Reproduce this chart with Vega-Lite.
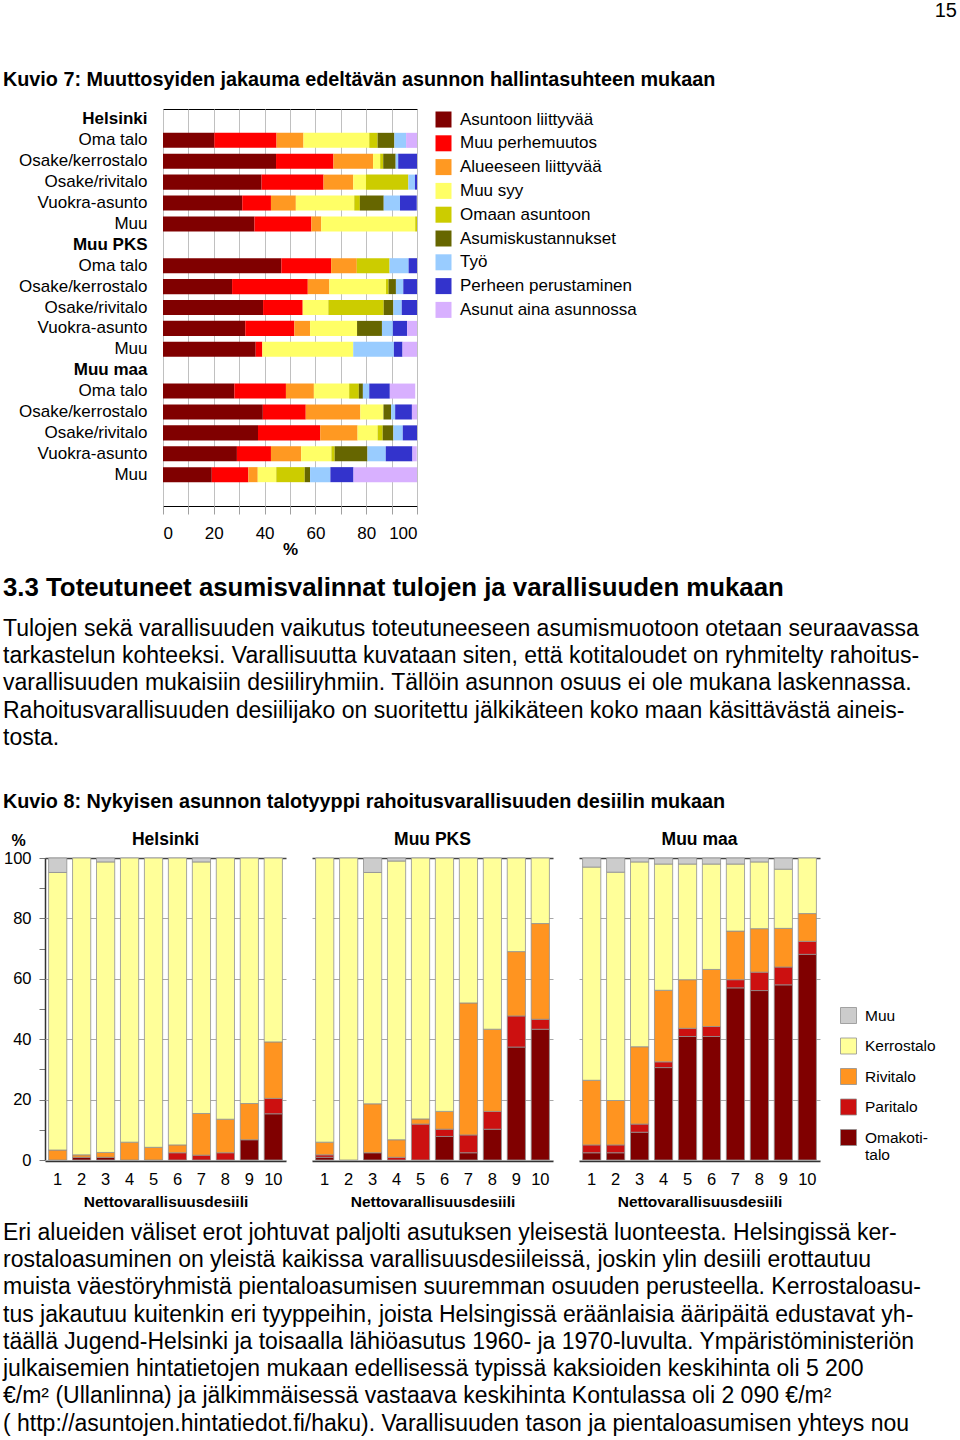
{
  "$schema": "https://vega.github.io/schema/vega-lite/v6.json",
  "padding": {"left": 3, "right": 3, "top": 1, "bottom": 0},
  "background": "white",
  "title": {"text": "15", "anchor": "end", "fontSize": 20, "fontWeight": "normal", "font": "Liberation Sans", "color": "black", "offset": 31},
  "spacing": 0,
  "resolve": {"scale": {"color": "independent"}, "legend": {"color": "independent"}},
  "config": {
    "view": {"stroke": null},
    "font": "Liberation Sans",
    "axis": {"labelColor": "black", "titleColor": "black", "labelFont": "Liberation Sans", "titleFont": "Liberation Sans"},
    "legend": {"labelColor": "black", "labelFont": "Liberation Sans"},
    "header": {"labelFont": "Liberation Sans", "labelColor": "black"}
  },
  "datasets": {
    "c1": [
      {"r": "Helsinki|Oma talo", "s": "Asuntoon liittyvää", "v": 20.2},
      {"r": "Helsinki|Oma talo", "s": "Muu perhemuutos", "v": 24.5},
      {"r": "Helsinki|Oma talo", "s": "Alueeseen liittyvää", "v": 10.6},
      {"r": "Helsinki|Oma talo", "s": "Muu syy", "v": 25.9},
      {"r": "Helsinki|Oma talo", "s": "Omaan asuntoon", "v": 3.3},
      {"r": "Helsinki|Oma talo", "s": "Asumiskustannukset", "v": 6.6},
      {"r": "Helsinki|Oma talo", "s": "Työ", "v": 4.6},
      {"r": "Helsinki|Oma talo", "s": "Asunut aina asunnossa", "v": 4.3},
      {"r": "Helsinki|Osake/kerrostalo", "s": "Asuntoon liittyvää", "v": 44.5},
      {"r": "Helsinki|Osake/kerrostalo", "s": "Muu perhemuutos", "v": 22.6},
      {"r": "Helsinki|Osake/kerrostalo", "s": "Alueeseen liittyvää", "v": 15.6},
      {"r": "Helsinki|Osake/kerrostalo", "s": "Muu syy", "v": 2.8},
      {"r": "Helsinki|Osake/kerrostalo", "s": "Omaan asuntoon", "v": 1.2},
      {"r": "Helsinki|Osake/kerrostalo", "s": "Asumiskustannukset", "v": 4.9},
      {"r": "Helsinki|Osake/kerrostalo", "s": "Työ", "v": 1.0},
      {"r": "Helsinki|Osake/kerrostalo", "s": "Perheen perustaminen", "v": 7.4},
      {"r": "Helsinki|Osake/rivitalo", "s": "Asuntoon liittyvää", "v": 38.8},
      {"r": "Helsinki|Osake/rivitalo", "s": "Muu perhemuutos", "v": 24.4},
      {"r": "Helsinki|Osake/rivitalo", "s": "Alueeseen liittyvää", "v": 11.7},
      {"r": "Helsinki|Osake/rivitalo", "s": "Muu syy", "v": 5.0},
      {"r": "Helsinki|Osake/rivitalo", "s": "Omaan asuntoon", "v": 16.7},
      {"r": "Helsinki|Osake/rivitalo", "s": "Työ", "v": 2.6},
      {"r": "Helsinki|Osake/rivitalo", "s": "Perheen perustaminen", "v": 0.8},
      {"r": "Helsinki|Vuokra-asunto", "s": "Asuntoon liittyvää", "v": 31.2},
      {"r": "Helsinki|Vuokra-asunto", "s": "Muu perhemuutos", "v": 11.3},
      {"r": "Helsinki|Vuokra-asunto", "s": "Alueeseen liittyvää", "v": 9.8},
      {"r": "Helsinki|Vuokra-asunto", "s": "Muu syy", "v": 23.0},
      {"r": "Helsinki|Vuokra-asunto", "s": "Omaan asuntoon", "v": 2.2},
      {"r": "Helsinki|Vuokra-asunto", "s": "Asumiskustannukset", "v": 9.4},
      {"r": "Helsinki|Vuokra-asunto", "s": "Työ", "v": 6.4},
      {"r": "Helsinki|Vuokra-asunto", "s": "Perheen perustaminen", "v": 6.6},
      {"r": "Helsinki|Muu", "s": "Asuntoon liittyvää", "v": 36.0},
      {"r": "Helsinki|Muu", "s": "Muu perhemuutos", "v": 22.4},
      {"r": "Helsinki|Muu", "s": "Alueeseen liittyvää", "v": 3.9},
      {"r": "Helsinki|Muu", "s": "Muu syy", "v": 37.0},
      {"r": "Helsinki|Muu", "s": "Omaan asuntoon", "v": 0.7},
      {"r": "Muu PKS|Oma talo", "s": "Asuntoon liittyvää", "v": 46.6},
      {"r": "Muu PKS|Oma talo", "s": "Muu perhemuutos", "v": 19.6},
      {"r": "Muu PKS|Oma talo", "s": "Alueeseen liittyvää", "v": 10.1},
      {"r": "Muu PKS|Oma talo", "s": "Omaan asuntoon", "v": 12.9},
      {"r": "Muu PKS|Oma talo", "s": "Työ", "v": 7.5},
      {"r": "Muu PKS|Oma talo", "s": "Perheen perustaminen", "v": 3.3},
      {"r": "Muu PKS|Osake/kerrostalo", "s": "Asuntoon liittyvää", "v": 27.2},
      {"r": "Muu PKS|Osake/kerrostalo", "s": "Muu perhemuutos", "v": 29.8},
      {"r": "Muu PKS|Osake/kerrostalo", "s": "Alueeseen liittyvää", "v": 8.5},
      {"r": "Muu PKS|Osake/kerrostalo", "s": "Muu syy", "v": 22.3},
      {"r": "Muu PKS|Osake/kerrostalo", "s": "Omaan asuntoon", "v": 1.0},
      {"r": "Muu PKS|Osake/kerrostalo", "s": "Asumiskustannukset", "v": 2.9},
      {"r": "Muu PKS|Osake/kerrostalo", "s": "Työ", "v": 2.9},
      {"r": "Muu PKS|Osake/kerrostalo", "s": "Perheen perustaminen", "v": 5.4},
      {"r": "Muu PKS|Osake/rivitalo", "s": "Asuntoon liittyvää", "v": 39.4},
      {"r": "Muu PKS|Osake/rivitalo", "s": "Muu perhemuutos", "v": 15.6},
      {"r": "Muu PKS|Osake/rivitalo", "s": "Muu syy", "v": 10.1},
      {"r": "Muu PKS|Osake/rivitalo", "s": "Omaan asuntoon", "v": 21.8},
      {"r": "Muu PKS|Osake/rivitalo", "s": "Asumiskustannukset", "v": 3.8},
      {"r": "Muu PKS|Osake/rivitalo", "s": "Työ", "v": 3.3},
      {"r": "Muu PKS|Osake/rivitalo", "s": "Perheen perustaminen", "v": 6.0},
      {"r": "Muu PKS|Vuokra-asunto", "s": "Asuntoon liittyvää", "v": 32.4},
      {"r": "Muu PKS|Vuokra-asunto", "s": "Muu perhemuutos", "v": 19.3},
      {"r": "Muu PKS|Vuokra-asunto", "s": "Alueeseen liittyvää", "v": 6.2},
      {"r": "Muu PKS|Vuokra-asunto", "s": "Muu syy", "v": 18.5},
      {"r": "Muu PKS|Vuokra-asunto", "s": "Asumiskustannukset", "v": 9.8},
      {"r": "Muu PKS|Vuokra-asunto", "s": "Työ", "v": 4.3},
      {"r": "Muu PKS|Vuokra-asunto", "s": "Perheen perustaminen", "v": 5.6},
      {"r": "Muu PKS|Vuokra-asunto", "s": "Asunut aina asunnossa", "v": 3.9},
      {"r": "Muu PKS|Muu", "s": "Asuntoon liittyvää", "v": 36.5},
      {"r": "Muu PKS|Muu", "s": "Muu perhemuutos", "v": 2.6},
      {"r": "Muu PKS|Muu", "s": "Muu syy", "v": 35.8},
      {"r": "Muu PKS|Muu", "s": "Työ", "v": 16.0},
      {"r": "Muu PKS|Muu", "s": "Perheen perustaminen", "v": 3.4},
      {"r": "Muu PKS|Muu", "s": "Asunut aina asunnossa", "v": 5.7},
      {"r": "Muu maa|Oma talo", "s": "Asuntoon liittyvää", "v": 28.1},
      {"r": "Muu maa|Oma talo", "s": "Muu perhemuutos", "v": 20.3},
      {"r": "Muu maa|Oma talo", "s": "Alueeseen liittyvää", "v": 11.0},
      {"r": "Muu maa|Oma talo", "s": "Muu syy", "v": 13.9},
      {"r": "Muu maa|Oma talo", "s": "Omaan asuntoon", "v": 3.8},
      {"r": "Muu maa|Oma talo", "s": "Asumiskustannukset", "v": 1.6},
      {"r": "Muu maa|Oma talo", "s": "Työ", "v": 2.5},
      {"r": "Muu maa|Oma talo", "s": "Perheen perustaminen", "v": 8.1},
      {"r": "Muu maa|Oma talo", "s": "Asunut aina asunnossa", "v": 10.0},
      {"r": "Muu maa|Osake/kerrostalo", "s": "Asuntoon liittyvää", "v": 39.3},
      {"r": "Muu maa|Osake/kerrostalo", "s": "Muu perhemuutos", "v": 16.9},
      {"r": "Muu maa|Osake/kerrostalo", "s": "Alueeseen liittyvää", "v": 21.5},
      {"r": "Muu maa|Osake/kerrostalo", "s": "Muu syy", "v": 9.1},
      {"r": "Muu maa|Osake/kerrostalo", "s": "Asumiskustannukset", "v": 3.0},
      {"r": "Muu maa|Osake/kerrostalo", "s": "Työ", "v": 1.6},
      {"r": "Muu maa|Osake/kerrostalo", "s": "Perheen perustaminen", "v": 6.6},
      {"r": "Muu maa|Osake/kerrostalo", "s": "Asunut aina asunnossa", "v": 2.0},
      {"r": "Muu maa|Osake/rivitalo", "s": "Asuntoon liittyvää", "v": 37.4},
      {"r": "Muu maa|Osake/rivitalo", "s": "Muu perhemuutos", "v": 24.5},
      {"r": "Muu maa|Osake/rivitalo", "s": "Alueeseen liittyvää", "v": 14.7},
      {"r": "Muu maa|Osake/rivitalo", "s": "Muu syy", "v": 7.9},
      {"r": "Muu maa|Osake/rivitalo", "s": "Omaan asuntoon", "v": 2.0},
      {"r": "Muu maa|Osake/rivitalo", "s": "Asumiskustannukset", "v": 4.2},
      {"r": "Muu maa|Osake/rivitalo", "s": "Työ", "v": 3.7},
      {"r": "Muu maa|Osake/rivitalo", "s": "Perheen perustaminen", "v": 5.6},
      {"r": "Muu maa|Vuokra-asunto", "s": "Asuntoon liittyvää", "v": 29.1},
      {"r": "Muu maa|Vuokra-asunto", "s": "Muu perhemuutos", "v": 13.4},
      {"r": "Muu maa|Vuokra-asunto", "s": "Alueeseen liittyvää", "v": 11.9},
      {"r": "Muu maa|Vuokra-asunto", "s": "Muu syy", "v": 11.9},
      {"r": "Muu maa|Vuokra-asunto", "s": "Omaan asuntoon", "v": 1.3},
      {"r": "Muu maa|Vuokra-asunto", "s": "Asumiskustannukset", "v": 12.9},
      {"r": "Muu maa|Vuokra-asunto", "s": "Työ", "v": 7.2},
      {"r": "Muu maa|Vuokra-asunto", "s": "Perheen perustaminen", "v": 10.5},
      {"r": "Muu maa|Vuokra-asunto", "s": "Asunut aina asunnossa", "v": 1.7},
      {"r": "Muu maa|Muu", "s": "Asuntoon liittyvää", "v": 19.2},
      {"r": "Muu maa|Muu", "s": "Muu perhemuutos", "v": 14.4},
      {"r": "Muu maa|Muu", "s": "Alueeseen liittyvää", "v": 3.7},
      {"r": "Muu maa|Muu", "s": "Muu syy", "v": 7.3},
      {"r": "Muu maa|Muu", "s": "Omaan asuntoon", "v": 11.2},
      {"r": "Muu maa|Muu", "s": "Asumiskustannukset", "v": 2.1},
      {"r": "Muu maa|Muu", "s": "Työ", "v": 8.0},
      {"r": "Muu maa|Muu", "s": "Perheen perustaminen", "v": 9.1},
      {"r": "Muu maa|Muu", "s": "Asunut aina asunnossa", "v": 25.0}
    ],
    "c2": [
      {"a": "Helsinki", "d": 1, "t": "Rivitalo", "p": 3.3},
      {"a": "Helsinki", "d": 1, "t": "Kerrostalo", "p": 91.9},
      {"a": "Helsinki", "d": 1, "t": "Muu", "p": 4.8},
      {"a": "Helsinki", "d": 2, "t": "Omakotitalo", "p": 0.9},
      {"a": "Helsinki", "d": 2, "t": "Rivitalo", "p": 0.8},
      {"a": "Helsinki", "d": 2, "t": "Kerrostalo", "p": 98.3},
      {"a": "Helsinki", "d": 3, "t": "Omakotitalo", "p": 0.9},
      {"a": "Helsinki", "d": 3, "t": "Rivitalo", "p": 1.6},
      {"a": "Helsinki", "d": 3, "t": "Kerrostalo", "p": 96.2},
      {"a": "Helsinki", "d": 3, "t": "Muu", "p": 1.3},
      {"a": "Helsinki", "d": 4, "t": "Rivitalo", "p": 5.9},
      {"a": "Helsinki", "d": 4, "t": "Kerrostalo", "p": 94.1},
      {"a": "Helsinki", "d": 5, "t": "Rivitalo", "p": 4.2},
      {"a": "Helsinki", "d": 5, "t": "Kerrostalo", "p": 95.8},
      {"a": "Helsinki", "d": 6, "t": "Paritalo", "p": 2.4},
      {"a": "Helsinki", "d": 6, "t": "Rivitalo", "p": 2.6},
      {"a": "Helsinki", "d": 6, "t": "Kerrostalo", "p": 95.0},
      {"a": "Helsinki", "d": 7, "t": "Paritalo", "p": 1.6},
      {"a": "Helsinki", "d": 7, "t": "Rivitalo", "p": 13.8},
      {"a": "Helsinki", "d": 7, "t": "Kerrostalo", "p": 83.3},
      {"a": "Helsinki", "d": 7, "t": "Muu", "p": 1.3},
      {"a": "Helsinki", "d": 8, "t": "Paritalo", "p": 2.4},
      {"a": "Helsinki", "d": 8, "t": "Rivitalo", "p": 11.1},
      {"a": "Helsinki", "d": 8, "t": "Kerrostalo", "p": 86.5},
      {"a": "Helsinki", "d": 9, "t": "Omakotitalo", "p": 6.7},
      {"a": "Helsinki", "d": 9, "t": "Rivitalo", "p": 12.0},
      {"a": "Helsinki", "d": 9, "t": "Kerrostalo", "p": 81.3},
      {"a": "Helsinki", "d": 10, "t": "Omakotitalo", "p": 15.3},
      {"a": "Helsinki", "d": 10, "t": "Paritalo", "p": 5.1},
      {"a": "Helsinki", "d": 10, "t": "Rivitalo", "p": 18.7},
      {"a": "Helsinki", "d": 10, "t": "Kerrostalo", "p": 60.9},
      {"a": "Muu PKS", "d": 1, "t": "Omakotitalo", "p": 0.9},
      {"a": "Muu PKS", "d": 1, "t": "Paritalo", "p": 0.8},
      {"a": "Muu PKS", "d": 1, "t": "Rivitalo", "p": 4.2},
      {"a": "Muu PKS", "d": 1, "t": "Kerrostalo", "p": 94.1},
      {"a": "Muu PKS", "d": 2, "t": "Kerrostalo", "p": 100},
      {"a": "Muu PKS", "d": 3, "t": "Omakotitalo", "p": 2.4},
      {"a": "Muu PKS", "d": 3, "t": "Rivitalo", "p": 16.2},
      {"a": "Muu PKS", "d": 3, "t": "Kerrostalo", "p": 76.6},
      {"a": "Muu PKS", "d": 3, "t": "Muu", "p": 4.8},
      {"a": "Muu PKS", "d": 4, "t": "Paritalo", "p": 0.9},
      {"a": "Muu PKS", "d": 4, "t": "Rivitalo", "p": 5.8},
      {"a": "Muu PKS", "d": 4, "t": "Kerrostalo", "p": 92.3},
      {"a": "Muu PKS", "d": 4, "t": "Muu", "p": 1.0},
      {"a": "Muu PKS", "d": 5, "t": "Paritalo", "p": 11.9},
      {"a": "Muu PKS", "d": 5, "t": "Rivitalo", "p": 1.7},
      {"a": "Muu PKS", "d": 5, "t": "Kerrostalo", "p": 86.4},
      {"a": "Muu PKS", "d": 6, "t": "Omakotitalo", "p": 7.8},
      {"a": "Muu PKS", "d": 6, "t": "Paritalo", "p": 2.4},
      {"a": "Muu PKS", "d": 6, "t": "Rivitalo", "p": 5.9},
      {"a": "Muu PKS", "d": 6, "t": "Kerrostalo", "p": 83.9},
      {"a": "Muu PKS", "d": 7, "t": "Omakotitalo", "p": 2.4},
      {"a": "Muu PKS", "d": 7, "t": "Paritalo", "p": 5.9},
      {"a": "Muu PKS", "d": 7, "t": "Rivitalo", "p": 43.7},
      {"a": "Muu PKS", "d": 7, "t": "Kerrostalo", "p": 48.0},
      {"a": "Muu PKS", "d": 8, "t": "Omakotitalo", "p": 10.2},
      {"a": "Muu PKS", "d": 8, "t": "Paritalo", "p": 5.9},
      {"a": "Muu PKS", "d": 8, "t": "Rivitalo", "p": 27.2},
      {"a": "Muu PKS", "d": 8, "t": "Kerrostalo", "p": 56.7},
      {"a": "Muu PKS", "d": 9, "t": "Omakotitalo", "p": 37.4},
      {"a": "Muu PKS", "d": 9, "t": "Paritalo", "p": 10.3},
      {"a": "Muu PKS", "d": 9, "t": "Rivitalo", "p": 21.3},
      {"a": "Muu PKS", "d": 9, "t": "Kerrostalo", "p": 31.0},
      {"a": "Muu PKS", "d": 10, "t": "Omakotitalo", "p": 43.3},
      {"a": "Muu PKS", "d": 10, "t": "Paritalo", "p": 3.3},
      {"a": "Muu PKS", "d": 10, "t": "Rivitalo", "p": 31.7},
      {"a": "Muu PKS", "d": 10, "t": "Kerrostalo", "p": 21.7},
      {"a": "Muu maa", "d": 1, "t": "Omakotitalo", "p": 2.4},
      {"a": "Muu maa", "d": 1, "t": "Paritalo", "p": 2.6},
      {"a": "Muu maa", "d": 1, "t": "Rivitalo", "p": 21.4},
      {"a": "Muu maa", "d": 1, "t": "Kerrostalo", "p": 70.6},
      {"a": "Muu maa", "d": 1, "t": "Muu", "p": 3.0},
      {"a": "Muu maa", "d": 2, "t": "Omakotitalo", "p": 2.4},
      {"a": "Muu maa", "d": 2, "t": "Paritalo", "p": 2.6},
      {"a": "Muu maa", "d": 2, "t": "Rivitalo", "p": 14.7},
      {"a": "Muu maa", "d": 2, "t": "Kerrostalo", "p": 75.6},
      {"a": "Muu maa", "d": 2, "t": "Muu", "p": 4.7},
      {"a": "Muu maa", "d": 3, "t": "Omakotitalo", "p": 9.2},
      {"a": "Muu maa", "d": 3, "t": "Paritalo", "p": 2.7},
      {"a": "Muu maa", "d": 3, "t": "Rivitalo", "p": 25.6},
      {"a": "Muu maa", "d": 3, "t": "Kerrostalo", "p": 61.2},
      {"a": "Muu maa", "d": 3, "t": "Muu", "p": 1.3},
      {"a": "Muu maa", "d": 4, "t": "Omakotitalo", "p": 30.6},
      {"a": "Muu maa", "d": 4, "t": "Paritalo", "p": 1.9},
      {"a": "Muu maa", "d": 4, "t": "Rivitalo", "p": 23.7},
      {"a": "Muu maa", "d": 4, "t": "Kerrostalo", "p": 41.8},
      {"a": "Muu maa", "d": 4, "t": "Muu", "p": 2.0},
      {"a": "Muu maa", "d": 5, "t": "Omakotitalo", "p": 40.9},
      {"a": "Muu maa", "d": 5, "t": "Paritalo", "p": 2.7},
      {"a": "Muu maa", "d": 5, "t": "Rivitalo", "p": 16.1},
      {"a": "Muu maa", "d": 5, "t": "Kerrostalo", "p": 38.3},
      {"a": "Muu maa", "d": 5, "t": "Muu", "p": 2.0},
      {"a": "Muu maa", "d": 6, "t": "Omakotitalo", "p": 40.9},
      {"a": "Muu maa", "d": 6, "t": "Paritalo", "p": 3.3},
      {"a": "Muu maa", "d": 6, "t": "Rivitalo", "p": 18.9},
      {"a": "Muu maa", "d": 6, "t": "Kerrostalo", "p": 34.9},
      {"a": "Muu maa", "d": 6, "t": "Muu", "p": 2.0},
      {"a": "Muu maa", "d": 7, "t": "Omakotitalo", "p": 57.0},
      {"a": "Muu maa", "d": 7, "t": "Paritalo", "p": 2.7},
      {"a": "Muu maa", "d": 7, "t": "Rivitalo", "p": 16.1},
      {"a": "Muu maa", "d": 7, "t": "Kerrostalo", "p": 22.2},
      {"a": "Muu maa", "d": 7, "t": "Muu", "p": 2.0},
      {"a": "Muu maa", "d": 8, "t": "Omakotitalo", "p": 56.1},
      {"a": "Muu maa", "d": 8, "t": "Paritalo", "p": 6.1},
      {"a": "Muu maa", "d": 8, "t": "Rivitalo", "p": 14.4},
      {"a": "Muu maa", "d": 8, "t": "Kerrostalo", "p": 22.1},
      {"a": "Muu maa", "d": 8, "t": "Muu", "p": 1.3},
      {"a": "Muu maa", "d": 9, "t": "Omakotitalo", "p": 58.0},
      {"a": "Muu maa", "d": 9, "t": "Paritalo", "p": 5.9},
      {"a": "Muu maa", "d": 9, "t": "Rivitalo", "p": 12.8},
      {"a": "Muu maa", "d": 9, "t": "Kerrostalo", "p": 19.6},
      {"a": "Muu maa", "d": 9, "t": "Muu", "p": 3.7},
      {"a": "Muu maa", "d": 10, "t": "Omakotitalo", "p": 68.1},
      {"a": "Muu maa", "d": 10, "t": "Paritalo", "p": 4.3},
      {"a": "Muu maa", "d": 10, "t": "Rivitalo", "p": 9.2},
      {"a": "Muu maa", "d": 10, "t": "Kerrostalo", "p": 18.4}
    ]
  },
  "vconcat": [
    {
      "width": 912,
      "height": 56,
      "data": {"values": [{"i": 1, "txt": "Kuvio 7: Muuttosyiden jakauma edeltävän asunnon hallintasuhteen mukaan"}]},
      "mark": {"type": "text", "align": "left", "baseline": "middle", "fontSize": 19.8, "fontWeight": "bold", "color": "black"},
      "encoding": {
        "y": {"field": "i", "type": "ordinal", "axis": null, "scale": {"type": "point", "padding": 0.5}},
        "x": {"value": -42},
        "text": {"field": "txt"}
      }
    },
    {
      "spacing": 15,
      "resolve": {"scale": {"color": "independent", "y": "independent"}, "legend": {"color": "independent"}},
      "hconcat": [
        {
          "width": 1,
          "height": 397,
          "data": {"name": "c1"},
          "mark": {"type": "tick", "opacity": 0},
          "encoding": {
            "y": {
              "field": "r", "type": "nominal",
              "scale": {"domain": ["Helsinki", "Helsinki|Oma talo", "Helsinki|Osake/kerrostalo", "Helsinki|Osake/rivitalo", "Helsinki|Vuokra-asunto", "Helsinki|Muu", "Muu PKS", "Muu PKS|Oma talo", "Muu PKS|Osake/kerrostalo", "Muu PKS|Osake/rivitalo", "Muu PKS|Vuokra-asunto", "Muu PKS|Muu", "Muu maa", "Muu maa|Oma talo", "Muu maa|Osake/kerrostalo", "Muu maa|Osake/rivitalo", "Muu maa|Vuokra-asunto", "Muu maa|Muu", "_"], "paddingInner": 0.28, "paddingOuter": 0.14},
              "axis": {
                "orient": "right", "title": null, "ticks": false, "tickSize": 0, "domain": false, "grid": false, "labelAlign": "right", "labelPadding": 101, "labelFontSize": 17, "labelLimit": 300,
                "labelExpr": "datum.value == '_' ? '' : (indexof(datum.value, '|') >= 0 ? split(datum.value, '|')[1] : datum.value)",
                "labelFontWeight": {"condition": {"test": "indexof(datum.value, '|') < 0", "value": "bold"}, "value": "normal"}
              }
            }
          }
        },
        {
          "width": 254,
          "height": 397,
          "view": {"stroke": "black", "strokeWidth": 1},
          "data": {"name": "c1"},
          "transform": [
            {"lookup": "s", "from": {"data": {"values": [
              {"s": "Asuntoon liittyvää", "k": 1}, {"s": "Muu perhemuutos", "k": 2}, {"s": "Alueeseen liittyvää", "k": 3},
              {"s": "Muu syy", "k": 4}, {"s": "Omaan asuntoon", "k": 5}, {"s": "Asumiskustannukset", "k": 6},
              {"s": "Työ", "k": 7}, {"s": "Perheen perustaminen", "k": 8}, {"s": "Asunut aina asunnossa", "k": 9}
            ]}, "key": "s", "fields": ["k"]}}
          ],
          "mark": {"type": "bar"},
          "encoding": {
            "y": {
              "field": "r", "type": "nominal",
              "scale": {"domain": ["Helsinki", "Helsinki|Oma talo", "Helsinki|Osake/kerrostalo", "Helsinki|Osake/rivitalo", "Helsinki|Vuokra-asunto", "Helsinki|Muu", "Muu PKS", "Muu PKS|Oma talo", "Muu PKS|Osake/kerrostalo", "Muu PKS|Osake/rivitalo", "Muu PKS|Vuokra-asunto", "Muu PKS|Muu", "Muu maa", "Muu maa|Oma talo", "Muu maa|Osake/kerrostalo", "Muu maa|Osake/rivitalo", "Muu maa|Vuokra-asunto", "Muu maa|Muu", "_"], "paddingInner": 0.28, "paddingOuter": 0.14},
              "axis": null
            },
            "x": {
              "field": "v", "type": "quantitative", "stack": "zero",
              "scale": {"domain": [0, 100], "nice": false},
              "axis": {"values": [0, 10, 20, 30, 40, 50, 60, 70, 80, 90, 100], "labelExpr": "datum.value % 20 == 0 ? datum.label : ''", "grid": true, "gridColor": "#c0c0c0", "tickColor": "#a0a0a0", "tickSize": 8, "domain": false, "labelFontSize": 17, "labelPadding": 11, "title": "%", "titleFontSize": 17, "titleFontWeight": "bold", "titlePadding": 0}
            },
            "order": {"field": "k", "type": "quantitative", "sort": "ascending"},
            "color": {
              "field": "s", "type": "nominal",
              "scale": {"domain": ["Asuntoon liittyvää", "Muu perhemuutos", "Alueeseen liittyvää", "Muu syy", "Omaan asuntoon", "Asumiskustannukset", "Työ", "Perheen perustaminen", "Asunut aina asunnossa"], "range": ["#800000", "#ff0000", "#ff9922", "#ffff66", "#cccc00", "#666600", "#99ccff", "#3333cc", "#d8b0ff"]},
              "legend": {"title": null, "orient": "right", "offset": 16, "symbolType": "square", "symbolSize": 256, "symbolStrokeWidth": 0, "labelFontSize": 17, "labelOffset": 8, "labelLimit": 400, "rowPadding": 5.8, "padding": 2}
            }
          }
        }
      ]
    },
    {
      "width": 912,
      "height": 56.4,
      "data": {"values": [{"i": 1, "txt": "3.3 Toteutuneet asumisvalinnat tulojen ja varallisuuden mukaan"}]},
      "mark": {"type": "text", "align": "left", "baseline": "middle", "fontSize": 25.8, "fontWeight": "bold", "color": "black", "dy": 2},
      "encoding": {
        "y": {"field": "i", "type": "ordinal", "axis": null, "scale": {"type": "point", "padding": 0.5}},
        "x": {"value": -42},
        "text": {"field": "txt"}
      }
    },
    {
      "width": 912,
      "height": 136.5,
      "data": {"values": [
        {"i": 1, "txt": "Tulojen sekä varallisuuden vaikutus toteutuneeseen asumismuotoon otetaan seuraavassa"},
        {"i": 2, "txt": "tarkastelun kohteeksi. Varallisuutta kuvataan siten, että kotitaloudet on ryhmitelty rahoitus-"},
        {"i": 3, "txt": "varallisuuden mukaisiin desiiliryhmiin. Tällöin asunnon osuus ei ole mukana laskennassa."},
        {"i": 4, "txt": "Rahoitusvarallisuuden desiilijako on suoritettu jälkikäteen koko maan käsittävästä aineis-"},
        {"i": 5, "txt": "tosta."}
      ]},
      "mark": {"type": "text", "align": "left", "baseline": "middle", "fontSize": 23, "color": "black"},
      "encoding": {
        "y": {"field": "i", "type": "ordinal", "axis": null, "scale": {"type": "point", "padding": 0.5}},
        "x": {"value": -42},
        "text": {"field": "txt"}
      }
    },
    {
      "width": 912,
      "height": 78,
      "data": {"values": [{"i": 1, "txt": "Kuvio 8: Nykyisen asunnon talotyyppi rahoitusvarallisuuden desiilin mukaan"}]},
      "mark": {"type": "text", "align": "left", "baseline": "middle", "fontSize": 19.8, "fontWeight": "bold", "color": "black", "dy": 11},
      "encoding": {
        "y": {"field": "i", "type": "ordinal", "axis": null, "scale": {"type": "point", "padding": 0.5}},
        "x": {"value": -42},
        "text": {"field": "txt"}
      }
    },
    {
      "data": {"name": "c2"},
      "transform": [
        {"lookup": "t", "from": {"data": {"values": [
          {"t": "Omakotitalo", "k": 1}, {"t": "Paritalo", "k": 2}, {"t": "Rivitalo", "k": 3}, {"t": "Kerrostalo", "k": 4}, {"t": "Muu", "k": 5}
        ]}, "key": "t", "fields": ["k"]}}
      ],
      "facet": {"column": {"field": "a", "type": "nominal", "sort": ["Helsinki", "Muu PKS", "Muu maa"], "header": {"title": null, "labelFontSize": 17.5, "labelFontWeight": "bold", "labelPadding": 9, "labelColor": "black"}}},
      "spacing": 26,
      "spec": {
        "width": 241,
        "height": 302,
        "mark": {"type": "bar", "stroke": "#909090", "strokeWidth": 0.8},
        "encoding": {
          "x": {"field": "d", "type": "ordinal", "scale": {"paddingInner": 0.24, "paddingOuter": 0.15},
            "axis": {"labelAngle": 0, "ticks": false, "domain": true, "domainColor": "#333333", "domainWidth": 1.5, "labelFontSize": 16.5, "labelPadding": 10, "title": "Nettovarallisuusdesiili", "titleFontSize": 15.5, "titleFontWeight": "bold", "titlePadding": 7}},
          "y": {"field": "p", "type": "quantitative", "stack": "zero", "scale": {"domain": [0, 100], "nice": false},
            "axis": {"values": [0, 10, 20, 30, 40, 50, 60, 70, 80, 90, 100], "labelExpr": "datum.value % 20 == 0 ? datum.label : ''", "tickSize": 6, "tickColor": "#777777", "domain": true, "domainColor": "#333333", "domainWidth": 1.5, "labelFontSize": 16.5, "labelPadding": 8,
              "grid": true,
              "gridColor": {"condition": {"test": "datum.value == 100", "value": "#444444"}, "value": "#a8a8a8"},
              "gridWidth": {"condition": {"test": "datum.value == 100", "value": 1.5}, "value": 1},
              "gridOpacity": {"condition": {"test": "datum.value % 20 != 0", "value": 0}, "value": 1},
              "title": "%", "titleAngle": 0, "titleX": -27, "titleY": -18, "titleAlign": "center", "titleBaseline": "middle", "titleFontSize": 16, "titleFontWeight": "bold"}},
          "order": {"field": "k", "type": "quantitative", "sort": "ascending"},
          "color": {
            "field": "t", "type": "nominal",
            "scale": {"domain": ["Omakotitalo", "Paritalo", "Rivitalo", "Kerrostalo", "Muu"], "range": ["#800000", "#cc1010", "#ff9420", "#ffff99", "#cccccc"]},
            "legend": {"title": null, "orient": "none", "legendX": 795, "legendY": 149, "values": ["Muu", "Kerrostalo", "Rivitalo", "Paritalo", "Omakotitalo"], "symbolType": "square", "symbolSize": 256, "symbolStrokeColor": "#909090", "symbolStrokeWidth": 0.8, "labelFontSize": 15.5, "labelOffset": 8, "rowPadding": 9.5, "labelExpr": "datum.label == 'Omakotitalo' ? ['Omakoti-', 'talo'] : datum.label"}
          }
        }
      }
    },
    {
      "width": 912,
      "height": 218.4,
      "data": {"values": [
        {"i": 1, "txt": "Eri alueiden väliset erot johtuvat paljolti asutuksen yleisestä luonteesta. Helsingissä ker-"},
        {"i": 2, "txt": "rostaloasuminen on yleistä kaikissa varallisuusdesiileissä, joskin ylin desiili erottautuu"},
        {"i": 3, "txt": "muista väestöryhmistä pientaloasumisen suuremman osuuden perusteella. Kerrostaloasu-"},
        {"i": 4, "txt": "tus jakautuu kuitenkin eri tyyppeihin, joista Helsingissä eräänlaisia ääripäitä edustavat yh-"},
        {"i": 5, "txt": "täällä Jugend-Helsinki ja toisaalla lähiöasutus 1960- ja 1970-luvulta.  Ympäristöministeriön"},
        {"i": 6, "txt": "julkaisemien hintatietojen mukaan edellisessä typissä kaksioiden keskihinta oli 5 200"},
        {"i": 7, "txt": "€/m² (Ullanlinna) ja jälkimmäisessä vastaava keskihinta Kontulassa oli 2 090 €/m²"},
        {"i": 8, "txt": "( http://asuntojen.hintatiedot.fi/haku). Varallisuuden tason ja pientaloasumisen yhteys nou"}
      ]},
      "mark": {"type": "text", "align": "left", "baseline": "middle", "fontSize": 23, "color": "black", "dy": 9},
      "encoding": {
        "y": {"field": "i", "type": "ordinal", "axis": null, "scale": {"type": "point", "padding": 0.5}},
        "x": {"value": -42},
        "text": {"field": "txt"}
      }
    }
  ]
}
